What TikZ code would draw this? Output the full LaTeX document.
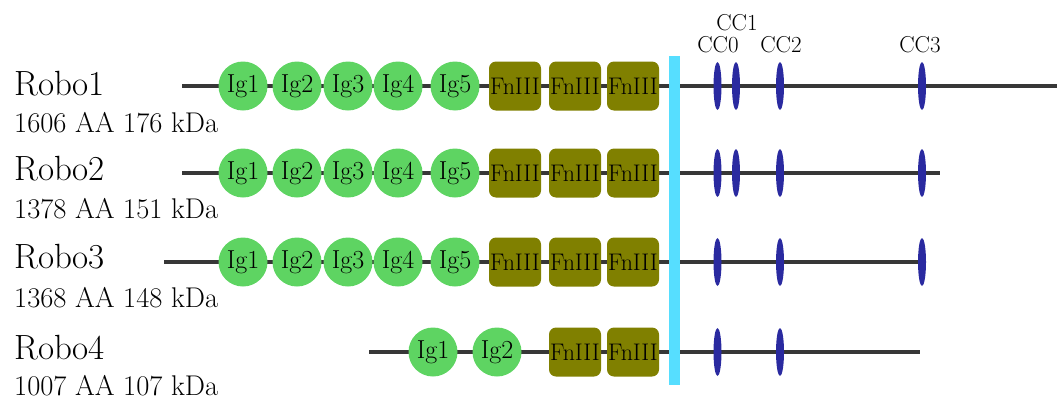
\documentclass[tikz,border=0pt]{standalone}
\usepackage{fontspec}
\usetikzlibrary{shapes.geometric}
\definecolor{iggreen}{RGB}{94,212,98}
\definecolor{fnolive}{RGB}{128,128,0}
\definecolor{tmcyan}{RGB}{86,222,255}
\definecolor{ccblue}{RGB}{42,42,160}
\definecolor{backbone}{RGB}{55,55,55}
\tikzset{
  ig/.style={circle,fill=iggreen,inner sep=0pt,minimum size=49pt,font=\fontsize{26}{28}\selectfont},
  fn/.style={rectangle,rounded corners=7pt,fill=fnolive,inner sep=0pt,minimum width=52pt,minimum height=49pt,font=\fontsize{24}{28}\selectfont},
  cc/.style={ellipse,fill=ccblue,inner sep=0pt,minimum width=8pt,minimum height=48pt},
  tm/.style={rectangle,fill=tmcyan,inner sep=0pt,minimum width=11pt,minimum height=329pt},
  bb/.style={draw=backbone,line width=4pt},
  robolab/.style={anchor=base west,inner sep=0pt,font=\fontsize{35}{40}\selectfont},
  infolab/.style={anchor=base west,inner sep=0pt,font=\fontsize{28.5}{32}\selectfont},
  cclab/.style={anchor=base,inner sep=0pt,font=\fontsize{23}{26}\selectfont},
}
\begin{document}
\begin{tikzpicture}[x=1pt,y=-1pt]
\useasboundingbox (0,0) rectangle (1057,399);
% backbones
\coordinate (s1) at (182,86);  \coordinate (e1) at (1057,86);
\coordinate (s2) at (182,173); \coordinate (e2) at (940,173);
\coordinate (s3) at (164,262); \coordinate (e3) at (922,262);
\coordinate (s4) at (369,352); \coordinate (e4) at (920,352);
\draw[bb] (s1) -- (e1);
\draw[bb] (s2) -- (e2);
\draw[bb] (s3) -- (e3);
\draw[bb] (s4) -- (e4);
% transmembrane bar
\node[tm] (tmbar) at (674.5,220.5) {};
% labels
\node[robolab] (n1) at (14,95) {Robo1};
\node[infolab] (i1) at (14,132) {1606 AA 176 kDa};
\node[robolab] (n2) at (14,180) {Robo2};
\node[infolab] (i2) at (14,218) {1378 AA 151 kDa};
\node[robolab] (n3) at (14,268) {Robo3};
\node[infolab] (i3) at (14,307) {1368 AA 148 kDa};
\node[robolab] (n4) at (14,359) {Robo4};
\node[infolab] (i4) at (14,395) {1007 AA 107 kDa};
% CC labels
\node[cclab] (l0) at (718,52) {CC0};
\node[cclab] (l1) at (737,30) {CC1};
\node[cclab] (l2) at (781,52) {CC2};
\node[cclab] (l3) at (920,52) {CC3};
% rows 1-3 domains
\foreach \r/\y in {1/86,2/173,3/262}{
  \node[ig] (ig1r\r) at (243,\y) {Ig1};
  \node[ig] (ig2r\r) at (297,\y) {Ig2};
  \node[ig] (ig3r\r) at (348,\y) {Ig3};
  \node[ig] (ig4r\r) at (398,\y) {Ig4};
  \node[ig] (ig5r\r) at (455,\y) {Ig5};
  \node[fn] (fna\r) at (515,\y) {FnIII};
  \node[fn] (fnb\r) at (575,\y) {FnIII};
  \node[fn] (fnc\r) at (633,\y) {FnIII};
  \node[cc] (cc0r\r) at (717.5,\y) {};
  \node[cc] (cc2r\r) at (780,\y) {};
  \node[cc] (cc3r\r) at (922,\y) {};
}
\node[cc] (cc1r1) at (736,86) {};
\node[cc] (cc1r2) at (736,173) {};
% row 4
\node[ig] (ig1r4) at (433,352) {Ig1};
\node[ig] (ig2r4) at (497,352) {Ig2};
\node[fn] (fnb4) at (575,352) {FnIII};
\node[fn] (fnc4) at (633,352) {FnIII};
\node[cc] (cc0r4) at (717.5,352) {};
\node[cc] (cc2r4) at (780,352) {};
\end{tikzpicture}
\end{document}
